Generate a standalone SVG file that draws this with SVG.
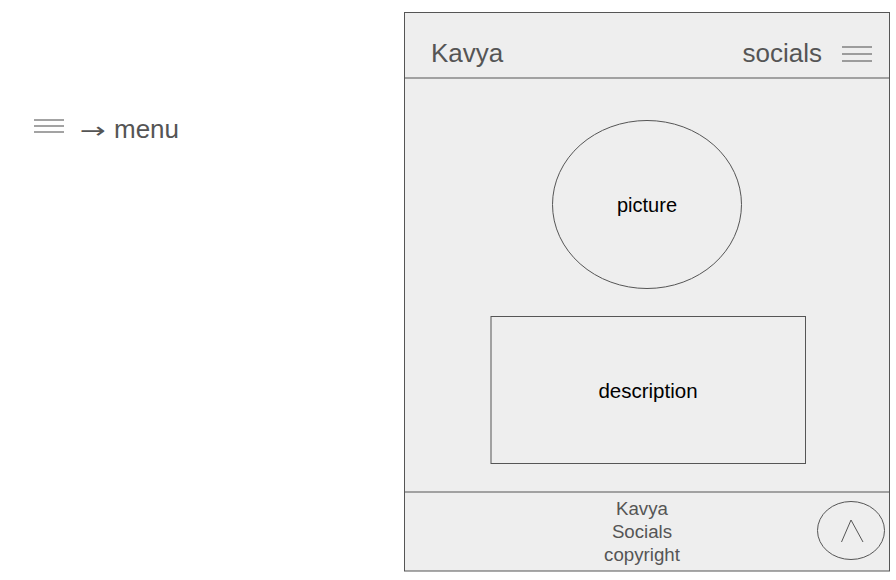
<svg xmlns="http://www.w3.org/2000/svg" width="896" height="580" viewBox="0 0 896 580">
<style>
.ln{stroke:#555;stroke-width:1;fill:none}
.t{font-family:"Liberation Sans",Arial,sans-serif;fill:#555}
.b{font-family:"Liberation Sans",Arial,sans-serif;fill:#000}
.ham{stroke:#666;stroke-width:1.2}
</style>
<rect width="896" height="580" fill="#fff"/>
<g id="legend">
<g class="ham"><line x1="34" y1="120" x2="64" y2="120"/><line x1="34" y1="126" x2="64" y2="126"/><line x1="34" y1="132" x2="64" y2="132"/></g>
<text class="t" x="80" y="138" font-size="26"><tspan font-family="DejaVu Sans, sans-serif" font-size="22" textLength="26" lengthAdjust="spacingAndGlyphs">→</tspan><tspan x="114">menu</tspan></text>
</g>
<g id="page">
<rect x="404.5" y="12.5" width="485" height="558.5" fill="#eeeeee" stroke="#555"/>
</g>
<g id="header">
<line class="ln" x1="404.5" y1="78" x2="890" y2="78"/>
<text class="t" x="431" y="62" font-size="26">Kavya</text>
<text class="t" x="822" y="62" font-size="26" text-anchor="end">socials</text>
<g class="ham"><line x1="842" y1="47" x2="872" y2="47"/><line x1="842" y1="54" x2="872" y2="54"/><line x1="842" y1="61" x2="872" y2="61"/></g>
</g>
<g id="picture">
<ellipse class="ln" cx="647" cy="204.5" rx="94.5" ry="84"/>
<text class="b" x="647" y="212" font-size="20" text-anchor="middle">picture</text>
</g>
<g id="description">
<rect class="ln" x="491" y="316.5" width="314.5" height="147"/>
<text class="b" x="648" y="398" font-size="20.5" text-anchor="middle">description</text>
</g>
<g id="footer">
<line class="ln" x1="404.5" y1="492" x2="890" y2="492"/>
<text class="t" x="642" y="515" font-size="18.7" text-anchor="middle">Kavya</text>
<text class="t" x="642" y="538" font-size="18.7" text-anchor="middle">Socials</text>
<text class="t" x="642" y="561" font-size="18.7" text-anchor="middle">copyright</text>
</g>
<g id="up-button">
<ellipse class="ln" cx="851" cy="530.5" rx="33.5" ry="29"/>
<polyline class="ln" points="841.5,542 851,520 863,542"/>
</g>
<g id="connectors"></g>
</svg>
